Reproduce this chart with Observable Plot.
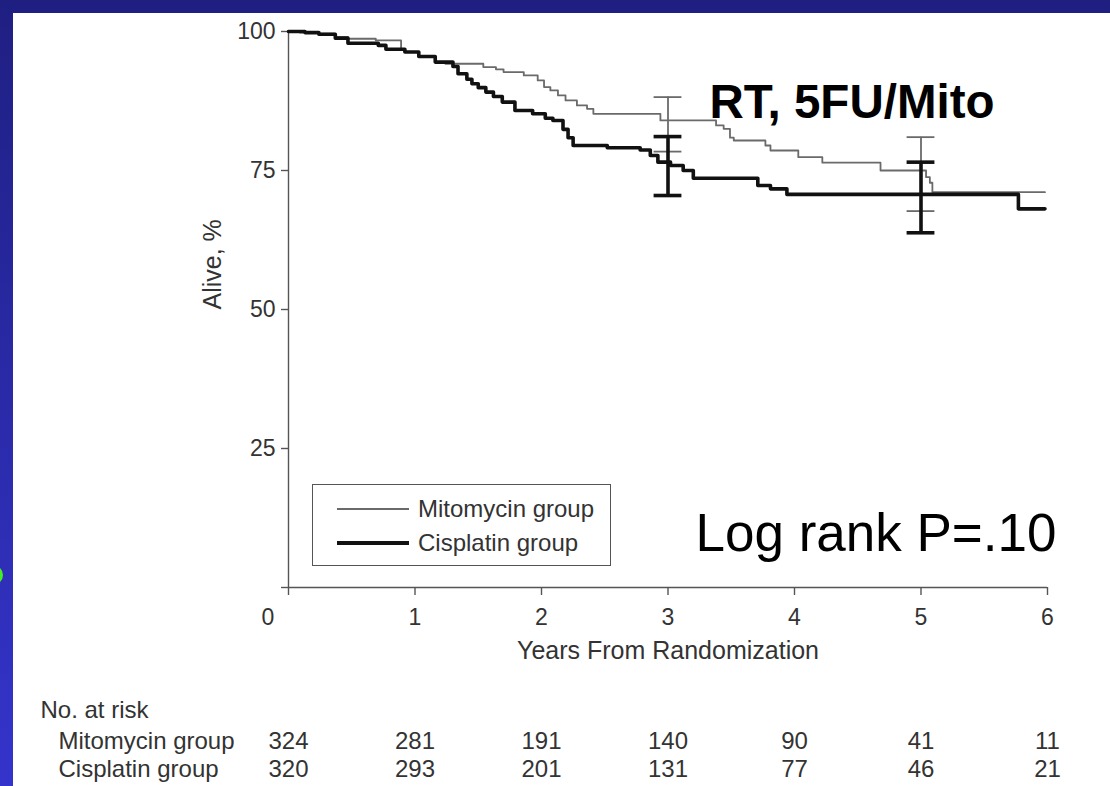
<!DOCTYPE html>
<html>
<head>
<meta charset="utf-8">
<script src="https://cdn.jsdelivr.net/npm/d3@7"></script>
<script src="https://cdn.jsdelivr.net/npm/@observablehq/plot@0.6"></script>
<style>
  html, body { margin: 0; padding: 0; }
  body {
    width: 1110px; height: 786px; overflow: hidden; position: relative;
    background: linear-gradient(to bottom, #1f1f82 0%, #2a2aa8 50%, #3434cc 100%);
    font-family: "Liberation Sans", Arial, Helvetica, sans-serif;
  }
  #panel { position: absolute; left: 13px; top: 13px; width: 1097px; height: 773px; background: #fff; }
  #dot { position: absolute; left: -17px; top: 565px; width: 20px; height: 20px; border-radius: 50%; background: #44ee22; }
  #chart { position: absolute; left: 0; top: 0; }
  #legend { position: absolute; left: 312px; top: 484px; width: 297px; height: 80px; border: 1.4px solid #555; }
  .lg-row { position: absolute; left: 0; height: 30px; display: flex; align-items: center; }
  .lg-line { position: absolute; left: 24px; width: 72px; }
  .lg-text { position: absolute; left: 105px; font-size: 24px; color: #333; white-space: nowrap; line-height: 30px; }
</style>
</head>
<body>
<div id="panel"></div>
<div id="dot"></div>
<div id="chart"></div>
<div id="legend"></div>
<script>
// ---- Data ----
const groups = ["Mitomycin group", "Cisplatin group"];

const mitoYears = [0, 0.09, 0.24, 0.37, 0.47, 0.69, 0.89, 0.92, 1.03, 1.16, 1.24, 1.54, 1.64, 1.70, 1.86, 1.97, 2.02, 2.07, 2.13, 2.19, 2.28, 2.36, 2.41, 2.94, 3.38, 3.44, 3.49, 3.52, 3.77, 3.81, 4.03, 4.22, 4.68, 5.04, 5.07, 5.09, 5.98];
const mitoAlive = [100, 99.8, 99.6, 99.0, 98.7, 98.4, 96.8, 96.3, 95.5, 94.5, 94.2, 93.6, 93.2, 92.7, 92.1, 91.2, 90.0, 89.4, 88.5, 87.6, 86.7, 86.1, 85.2, 84.0, 83.1, 82.5, 80.9, 80.4, 79.5, 78.6, 77.4, 76.4, 75.0, 73.8, 72.8, 71.1, 71.1];

const cisYears = [0, 0.13, 0.24, 0.37, 0.47, 0.71, 0.77, 0.92, 1.03, 1.16, 1.30, 1.34, 1.41, 1.45, 1.50, 1.56, 1.62, 1.69, 1.79, 1.93, 2.03, 2.09, 2.17, 2.21, 2.25, 2.52, 2.78, 2.86, 2.92, 3.02, 3.12, 3.20, 3.71, 3.81, 3.94, 5.77, 5.98];
const cisAlive = [100, 99.8, 99.5, 98.8, 97.9, 97.5, 96.8, 96.3, 95.5, 94.5, 93.7, 92.4, 91.4, 90.6, 89.9, 89.1, 88.3, 87.3, 85.8, 85.2, 84.4, 84.0, 82.4, 80.9, 79.5, 79.1, 78.7, 77.7, 76.5, 75.9, 75.0, 73.6, 72.3, 71.7, 70.7, 68.1, 68.1];

// 95% CI bars at 3 and 5 years
const ciYears = [3, 5];
const mitoCILow = [78.4, 67.7];
const mitoCIHigh = [88.2, 81.0];
const cisCILow = [70.5, 63.8];
const cisCIHigh = [81.1, 76.5];

// Numbers at risk
const riskYears = [0, 1, 2, 3, 4, 5, 6];
const riskMito = [324, 281, 191, 140, 90, 41, 11];
const riskCis = [320, 293, 201, 131, 77, 46, 21];

const xTicks = [0, 1, 2, 3, 4, 5, 6];
const yTicks = [0, 25, 50, 75, 100];

// ---- Build tables ----
const mito = mitoYears.map((t, i) => ({t, s: mitoAlive[i]}));
const cis = cisYears.map((t, i) => ({t, s: cisAlive[i]}));
const mitoCI = ciYears.map((t, i) => ({t, lo: mitoCILow[i], hi: mitoCIHigh[i]}));
const cisCI = ciYears.map((t, i) => ({t, lo: cisCILow[i], hi: cisCIHigh[i]}));
const capHalf = 0.11;
const caps = (rows, key) => rows.map(d => ({x1: d.t - capHalf, x2: d.t + capHalf, y: d[key]}));
const riskM = riskYears.map((t, i) => ({t, n: riskMito[i]}));
const riskC = riskYears.map((t, i) => ({t, n: riskCis[i]}));

const axisGray = "#555";
const textGray = "#333";
const thin = {stroke: "#6a6a6a", strokeWidth: 1.8};
const thick = {stroke: "#111", strokeWidth: 3.6};

const chart = Plot.plot({
  width: 1110,
  height: 786,
  marginTop: 31,
  marginLeft: 288,
  marginRight: 63,
  marginBottom: 199,
  x: {domain: [0, 6]},
  y: {domain: [0, 100]},
  style: {background: "transparent", fontFamily: "'Liberation Sans', Arial, Helvetica, sans-serif", color: textGray},
  marks: [
    // axes
    Plot.ruleX([0], {y1: 0, y2: 100, stroke: axisGray, strokeWidth: 1.4}),
    Plot.ruleY([0], {x1: 0, x2: 6, stroke: axisGray, strokeWidth: 1.4}),
    Plot.axisY({ticks: yTicks, tickSize: 7, tickPadding: 6, tickFormat: d => d === 0 ? "" : d, label: null, fontSize: 23, stroke: axisGray, strokeWidth: 1.4, fill: textGray}),
    Plot.axisX({ticks: xTicks, tickSize: 8, tickPadding: 13, tickFormat: d => d === 0 ? "" : d, label: null, fontSize: 23, stroke: axisGray, strokeWidth: 1.4, fill: textGray}),
    Plot.text(["0"], {frameAnchor: "bottom-left", dx: -27, dy: 21, lineAnchor: "top", fontSize: 23, fill: textGray}),
    // axis titles
    Plot.text(["Years From Randomization"], {frameAnchor: "bottom", dy: 71, lineAnchor: "bottom", fontSize: 25, fill: textGray}),
    Plot.text(["Alive, %"], {frameAnchor: "left", dx: -76, rotate: -90, lineAnchor: "middle", fontSize: 25, fill: textGray}),
    // survival curves
    Plot.line(mito, {x: "t", y: "s", curve: "step-after", ...thin}),
    Plot.line(cis, {x: "t", y: "s", curve: "step-after", ...thick}),
    // CI bars
    Plot.ruleX(mitoCI, {x: "t", y1: "lo", y2: "hi", ...thin}),
    Plot.ruleY(caps(mitoCI, "lo"), {x1: "x1", x2: "x2", y: "y", ...thin}),
    Plot.ruleY(caps(mitoCI, "hi"), {x1: "x1", x2: "x2", y: "y", ...thin}),
    Plot.ruleX(cisCI, {x: "t", y1: "lo", y2: "hi", ...thick}),
    Plot.ruleY(caps(cisCI, "lo"), {x1: "x1", x2: "x2", y: "y", ...thick}),
    Plot.ruleY(caps(cisCI, "hi"), {x1: "x1", x2: "x2", y: "y", ...thick}),
    // annotations
    Plot.text(["RT, 5FU/Mito"], {frameAnchor: "top-left", dx: 421, dy: 86, lineAnchor: "bottom", textAnchor: "start", fontSize: 47.5, fontWeight: "bold", fill: "#000"}),
    Plot.text(["Log rank P=.10"], {frameAnchor: "top-left", dx: 407, dy: 519, lineAnchor: "bottom", textAnchor: "start", fontSize: 53, fill: "#000"}),
    // numbers at risk
    Plot.text(["No. at risk"], {frameAnchor: "bottom-left", dx: -248, dy: 130, lineAnchor: "bottom", textAnchor: "start", fontSize: 24, fill: textGray}),
    Plot.text([groups[0]], {frameAnchor: "bottom-left", dx: -230, dy: 161, lineAnchor: "bottom", textAnchor: "start", fontSize: 24, fill: textGray}),
    Plot.text([groups[1]], {frameAnchor: "bottom-left", dx: -230, dy: 189, lineAnchor: "bottom", textAnchor: "start", fontSize: 24, fill: textGray}),
    Plot.text(riskM, {x: "t", text: "n", frameAnchor: "bottom", dy: 161, lineAnchor: "bottom", fontSize: 24, fill: textGray}),
    Plot.text(riskC, {x: "t", text: "n", frameAnchor: "bottom", dy: 189, lineAnchor: "bottom", fontSize: 24, fill: textGray})
  ]
});
document.getElementById("chart").appendChild(chart);

// legend
const legend = document.getElementById("legend");
const legendStyles = [{h: 1.8, c: "#6a6a6a"}, {h: 3.6, c: "#111"}];
groups.forEach((g, i) => {
  const row = document.createElement("div");
  row.className = "lg-row";
  row.style.top = (9 + i * 34) + "px";
  row.style.width = "100%";
  const line = document.createElement("div");
  line.className = "lg-line";
  line.style.top = (15 - legendStyles[i].h / 2) + "px";
  line.style.height = legendStyles[i].h + "px";
  line.style.background = legendStyles[i].c;
  const txt = document.createElement("div");
  txt.className = "lg-text";
  txt.style.top = "0px";
  txt.textContent = g;
  row.appendChild(line);
  row.appendChild(txt);
  legend.appendChild(row);
});
</script>
</body>
</html>
